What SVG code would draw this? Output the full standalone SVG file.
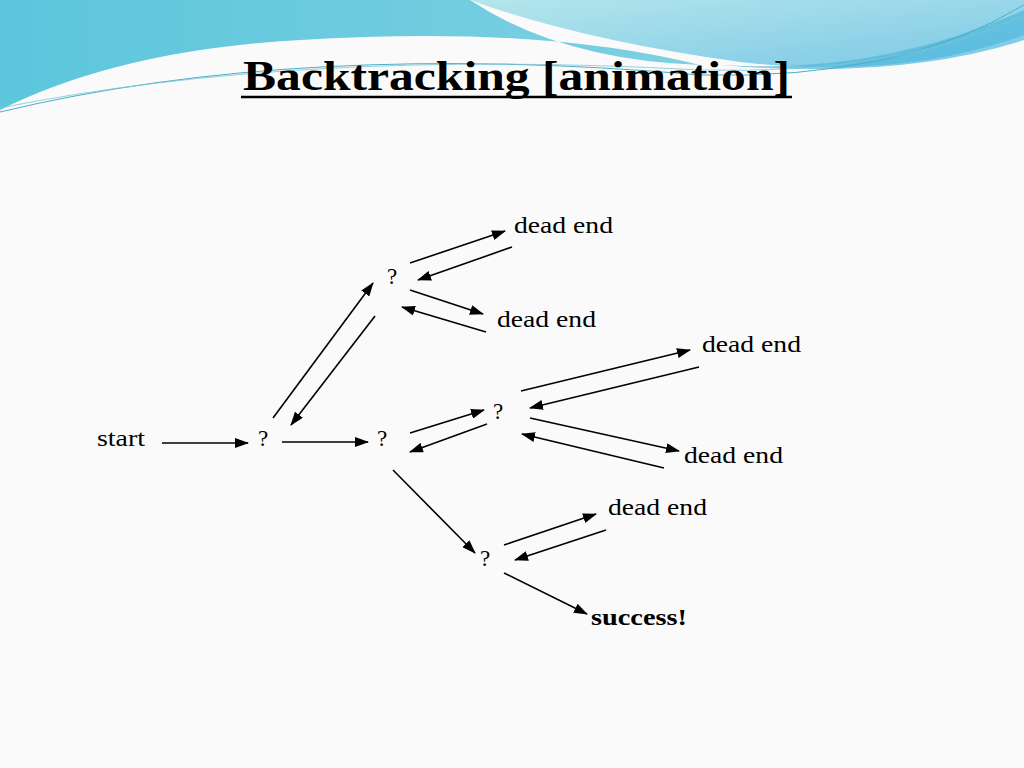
<svg xmlns="http://www.w3.org/2000/svg" width="1024" height="768" viewBox="0 0 1024 768">
<defs>
<marker id="ah" viewBox="0 0 14 10" refX="13" refY="5" markerWidth="14" markerHeight="10" markerUnits="userSpaceOnUse" orient="auto"><path d="M0,0 L14,5 L0,10 z" fill="#000"/></marker>
<linearGradient id="g1" x1="0" y1="0" x2="1" y2="0"><stop offset="0" stop-color="#5cc6dc"/><stop offset="1" stop-color="#7dd0e2"/></linearGradient>
<linearGradient id="g2" x1="0" y1="0" x2="1" y2="1"><stop offset="0" stop-color="#b4e6ec"/><stop offset="1" stop-color="#7cc8e6"/></linearGradient>
</defs>
<style>
.t{font-family:"Liberation Serif",serif;font-size:23px;fill:#000}
.c line{stroke:#000;stroke-width:1.6;marker-end:url(#ah)}
</style>
<rect width="1024" height="768" fill="#fafafa"/>
<g id="bg">
<path d="M0,0 H470 Q560,60 700,65 Q540,25 300,40 Q120,50 0,110 Z" fill="url(#g1)"/>
<path d="M470,0 H1024 V35 Q900,80 740,62 Q580,40 470,0 Z" fill="url(#g2)"/>
<path d="M720,65 Q880,75 1024,10 V40 Q900,80 720,65 Z" fill="#4fb8dc" opacity="0.7"/>
<path d="M0,112 Q300,40 700,75 Q900,80 1024,5" fill="none" stroke="#4aaec8" stroke-width="1"/>
<path d="M0,108 Q300,48 700,70 Q900,75 1024,15" fill="none" stroke="#7fc4d4" stroke-width="0.8"/>
</g>
<g id="title">
<text x="243" y="90" textLength="547" lengthAdjust="spacingAndGlyphs" style="font-family:'Liberation Serif',serif;font-size:42px;font-weight:bold">Backtracking [animation]</text>
<line x1="241" y1="97" x2="792" y2="97" stroke="#000" stroke-width="2.5"/>
</g>
<g id="n-start"><text class="t" x="97" y="446" textLength="48" lengthAdjust="spacingAndGlyphs">start</text></g>
<g id="n-q1"><text class="t" x="258" y="446">?</text></g>
<g id="n-q2"><text class="t" x="377" y="446">?</text></g>
<g id="n-q3"><text class="t" x="387" y="284">?</text></g>
<g id="n-q4"><text class="t" x="493" y="419">?</text></g>
<g id="n-q5"><text class="t" x="480" y="566">?</text></g>
<g id="n-d1"><text class="t" x="514" y="233" textLength="99" lengthAdjust="spacingAndGlyphs">dead end</text></g>
<g id="n-d2"><text class="t" x="497" y="327" textLength="99" lengthAdjust="spacingAndGlyphs">dead end</text></g>
<g id="n-d3"><text class="t" x="702" y="352" textLength="99" lengthAdjust="spacingAndGlyphs">dead end</text></g>
<g id="n-d4"><text class="t" x="684" y="463" textLength="99" lengthAdjust="spacingAndGlyphs">dead end</text></g>
<g id="n-d5"><text class="t" x="608" y="515" textLength="99" lengthAdjust="spacingAndGlyphs">dead end</text></g>
<g id="n-success"><text class="t" x="591" y="625" font-weight="bold" textLength="96" lengthAdjust="spacingAndGlyphs">success!</text></g>
<g id="connectors" class="c">
<line x1="162" y1="443" x2="248" y2="443"/>
<line x1="282" y1="442" x2="368" y2="442"/>
<line x1="273" y1="418" x2="373" y2="283"/>
<line x1="375" y1="316" x2="291" y2="425"/>
<line x1="410" y1="263" x2="505" y2="231"/>
<line x1="512" y1="247" x2="418" y2="280"/>
<line x1="410" y1="290" x2="483" y2="314"/>
<line x1="486" y1="332" x2="402" y2="307"/>
<line x1="410" y1="433" x2="484" y2="410"/>
<line x1="487" y1="424" x2="410" y2="452"/>
<line x1="521" y1="391" x2="690" y2="350"/>
<line x1="699" y1="367" x2="530" y2="408"/>
<line x1="530" y1="418" x2="679" y2="451"/>
<line x1="664" y1="468" x2="522" y2="434"/>
<line x1="393" y1="470" x2="475" y2="553"/>
<line x1="504" y1="545" x2="596" y2="514"/>
<line x1="606" y1="530" x2="515" y2="560"/>
<line x1="504" y1="573" x2="587" y2="614"/>
</g>
</svg>
